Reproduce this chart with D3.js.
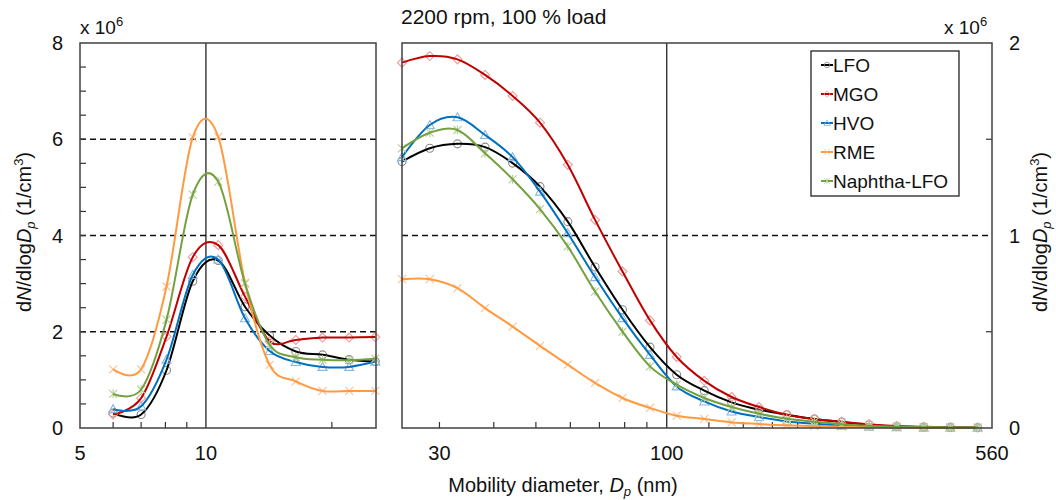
<!DOCTYPE html>
<html lang="en">
<head>
<meta charset="UTF-8">
<title>Particle size distribution</title>
<style>
  body { margin: 0; background: #fff; }
  svg text { font-family: Arial, "Liberation Sans", sans-serif; fill: #111; }
</style>
</head>
<body>
<svg id="chart" width="1056" height="500"></svg>
<script src="https://d3js.org/d3.v7.min.js"></script>
<script>
// mobility diameters (nm) of the points in each panel
const sizesSmall = [6.0, 7.0, 8.05, 9.3, 10.7, 12.4, 14.2, 16.4, 19.0, 22.0, 25.4];
const sizesLarge = [24.6, 28.5, 33.0, 38.2, 44.2, 51.1, 59.2, 68.4, 79.1, 91.5, 105.4,
  122, 141, 163, 188.8, 218.6, 252.7, 292, 338, 390, 449, 519];

// dN/dlogDp, x 10^6 1/cm3
const lfoSmall = [0.31, 0.28, 1.20, 3.05, 3.48, 2.52, 1.92, 1.59, 1.52, 1.42, 1.38];
const mgoSmall = [0.28, 0.62, 1.90, 3.55, 3.80, 2.73, 1.80, 1.83, 1.88, 1.88, 1.89];
const hvoSmall = [0.39, 0.45, 1.42, 3.18, 3.50, 2.28, 1.60, 1.37, 1.27, 1.27, 1.38];
const rmeSmall = [1.22, 1.22, 2.94, 6.04, 6.05, 3.02, 1.31, 0.97, 0.77, 0.77, 0.77];
const napSmall = [0.71, 0.80, 2.25, 4.85, 5.12, 3.00, 1.73, 1.47, 1.42, 1.41, 1.44];

const lfoLarge = [1.384, 1.453, 1.476, 1.459, 1.376, 1.254, 1.072, 0.836, 0.614, 0.420, 0.277,
  0.194, 0.133, 0.095, 0.069, 0.047, 0.031, 0.017, 0.008, 0.005, 0.003, 0.002];
const mgoLarge = [1.898, 1.932, 1.915, 1.834, 1.725, 1.586, 1.367, 1.081, 0.813, 0.559, 0.369,
  0.245, 0.161, 0.109, 0.069, 0.047, 0.033, 0.020, 0.010, 0.006, 0.004, 0.003];
const hvoLarge = [1.407, 1.574, 1.614, 1.522, 1.407, 1.228, 1.012, 0.784, 0.571, 0.380, 0.216,
  0.138, 0.086, 0.057, 0.034, 0.022, 0.012, 0.007, 0.004, 0.002, 0.001, 0.001];
const rmeLarge = [0.773, 0.773, 0.727, 0.623, 0.527, 0.427, 0.329, 0.234, 0.156, 0.104, 0.064,
  0.047, 0.029, 0.021, 0.014, 0.010, 0.007, 0.005, 0.003, 0.002, 0.001, 0.001];
const napLarge = [1.453, 1.534, 1.548, 1.427, 1.292, 1.137, 0.943, 0.709, 0.501, 0.320, 0.225,
  0.156, 0.109, 0.074, 0.048, 0.033, 0.020, 0.012, 0.007, 0.004, 0.003, 0.002];

const seriesNames = ["LFO", "MGO", "HVO", "RME", "Naphtha-LFO"];
const leftTicks = [0, 2, 4, 6, 8];
const rightTicks = [0, 1, 2];
const xLabelsSmall = [5, 10];
const xLabelsLarge = [30, 100, 560];
const minorSmall = [6, 7, 8, 9, 20];
const minorLarge = [30, 40, 50, 60, 70, 80, 90, 125, 150, 175, 200, 225];

const styles = {
  "LFO":         { line: "#000000", mark: "#8a8a8a", shape: "circle" },
  "MGO":         { line: "#c00000", mark: "#ee9a9a", shape: "diamond" },
  "HVO":         { line: "#0070c0", mark: "#86b8e2", shape: "triangle" },
  "RME":         { line: "#ff9a40", mark: "#ffbf90", shape: "cross" },
  "Naphtha-LFO": { line: "#74a040", mark: "#b5cf95", shape: "star" }
};
const smallSets = [lfoSmall, mgoSmall, hvoSmall, rmeSmall, napSmall];
const largeSets = [lfoLarge, mgoLarge, hvoLarge, rmeLarge, napLarge];

const svg = d3.select("#chart");

// panel geometry
const plotTop = 43, plotBottom = 428;
const xs = d3.scaleLog().domain([5, 25.5]).range([80, 376]);
const xl = d3.scaleLog().domain([24.6, 560]).range([402, 992]);
const ys = d3.scaleLinear().domain([0, 8]).range([plotBottom, plotTop]);
const yl = d3.scaleLinear().domain([0, 2]).range([plotBottom, plotTop]);

// reference lines
function hDash(x0, x1, y) {
  svg.append("line").attr("x1", x0).attr("x2", x1).attr("y1", y).attr("y2", y)
    .attr("stroke", "#111").attr("stroke-width", 1.3).attr("stroke-dasharray", "6,4");
}
[2, 4, 6].forEach(v => hDash(xs.range()[0], xs.range()[1], ys(v)));
hDash(xl.range()[0], xl.range()[1], yl(1));
svg.append("line").attr("x1", xs(10)).attr("x2", xs(10)).attr("y1", plotTop).attr("y2", plotBottom)
  .attr("stroke", "#111").attr("stroke-width", 1.2);
svg.append("line").attr("x1", xl(100)).attr("x2", xl(100)).attr("y1", plotTop).attr("y2", plotBottom)
  .attr("stroke", "#111").attr("stroke-width", 1.2);

// minor ticks (drawn inside the frame)
const tickG = svg.append("g").attr("stroke", "#333").attr("stroke-width", 1.2);
d3.range(0.5, 8, 0.5).forEach(v => {
  tickG.append("line").attr("x1", 80).attr("x2", 86).attr("y1", ys(v)).attr("y2", ys(v));
});
[0.5, 1.5].forEach(v => {
  tickG.append("line").attr("x1", 992).attr("x2", 986).attr("y1", yl(v)).attr("y2", yl(v));
});
minorSmall.forEach(v => {
  tickG.append("line").attr("x1", xs(v)).attr("x2", xs(v)).attr("y1", plotBottom).attr("y2", plotBottom - 6);
});
minorLarge.forEach(v => {
  tickG.append("line").attr("x1", xl(v)).attr("x2", xl(v)).attr("y1", plotBottom).attr("y2", plotBottom - 6);
});

// markers
function drawMarker(g, shape, x, y, color) {
  const m = g.append("g").attr("transform", `translate(${x},${y})`)
    .attr("fill", "none").attr("stroke", color).attr("stroke-width", 1.1);
  if (shape === "circle") m.append("circle").attr("r", 4);
  else if (shape === "diamond") m.append("path").attr("d", "M0,-4.5L4.5,0L0,4.5L-4.5,0Z");
  else if (shape === "triangle") m.append("path").attr("d", "M0,-4.5L4.5,3.5L-4.5,3.5Z");
  else if (shape === "cross") m.append("path").attr("d", "M-4,-4L4,4M-4,4L4,-4");
  else m.append("path").attr("d", "M-4,-4L4,4M-4,4L4,-4M0,-4.5L0,4.5");
  return m;
}

function drawPanel(sizes, sets, x, y) {
  seriesNames.forEach((name, i) => {
    const st = styles[name];
    const pts = sizes.map((s, j) => [x(s), y(sets[i][j])]);
    const g = svg.append("g");
    pts.forEach(p => drawMarker(g, st.shape, p[0], p[1], st.mark));
    g.append("path").datum(pts)
      .attr("d", d3.line().curve(d3.curveCardinal.tension(0)))
      .attr("fill", "none").attr("stroke", st.line).attr("stroke-width", 2);
  });
}
drawPanel(sizesSmall, smallSets, xs, ys);
drawPanel(sizesLarge, largeSets, xl, yl);

// frames
svg.append("rect").attr("x", 80).attr("y", plotTop).attr("width", 296).attr("height", plotBottom - plotTop)
  .attr("fill", "none").attr("stroke", "#404040").attr("stroke-width", 1.5);
svg.append("rect").attr("x", 402).attr("y", plotTop).attr("width", 590).attr("height", plotBottom - plotTop)
  .attr("fill", "none").attr("stroke", "#404040").attr("stroke-width", 1.5);

// tick labels
const fs = 20;
leftTicks.forEach(v => {
  svg.append("text").attr("x", 63).attr("y", ys(v) + 7).attr("text-anchor", "end")
    .attr("font-size", fs).text(v);
});
rightTicks.forEach(v => {
  svg.append("text").attr("x", 1009).attr("y", yl(v) + 7).attr("text-anchor", "start")
    .attr("font-size", fs).text(v);
});
xLabelsSmall.forEach(v => {
  svg.append("text").attr("x", xs(v)).attr("y", 460).attr("text-anchor", "middle")
    .attr("font-size", fs).text(v);
});
xLabelsLarge.forEach(v => {
  svg.append("text").attr("x", xl(v)).attr("y", 460).attr("text-anchor", "middle")
    .attr("font-size", fs).text(v);
});

// multipliers
function multiplier(x) {
  const t = svg.append("text").attr("x", x).attr("y", 34).attr("font-size", 19);
  t.append("tspan").text("x 10");
  t.append("tspan").attr("font-size", 13).attr("dy", -8).text("6");
}
multiplier(80);
multiplier(944);

// titles
svg.append("text").attr("x", 401).attr("y", 24).attr("font-size", 21).text("2200 rpm, 100 % load");

const xt = svg.append("text").attr("x", 563).attr("y", 492).attr("text-anchor", "middle").attr("font-size", 20);
xt.append("tspan").text("Mobility diameter, ");
xt.append("tspan").attr("font-style", "italic").text("D");
xt.append("tspan").attr("font-style", "italic").attr("font-size", 13).attr("dy", 4).text("p");
xt.append("tspan").attr("dy", -4).text(" (nm)");

function yTitle(x) {
  const t = svg.append("text").attr("transform", `translate(${x},232) rotate(-90)`)
    .attr("text-anchor", "middle").attr("font-size", 20);
  t.append("tspan").text("d");
  t.append("tspan").attr("font-style", "italic").text("N");
  t.append("tspan").text("/dlog");
  t.append("tspan").attr("font-style", "italic").text("D");
  t.append("tspan").attr("font-style", "italic").attr("font-size", 13).attr("dy", 4).text("p");
  t.append("tspan").attr("dy", -4).text(" (1/cm");
  t.append("tspan").attr("font-size", 13).attr("dy", -8).text("3");
  t.append("tspan").attr("dy", 8).text(")");
}
yTitle(31);
yTitle(1047);

// legend
const lg = svg.append("g").attr("transform", "translate(811,51)");
lg.append("rect").attr("width", 148).attr("height", 145).attr("fill", "#fff")
  .attr("stroke", "#222").attr("stroke-width", 1.3);
seriesNames.forEach((name, i) => {
  const yy = 14 + i * 29;
  const st = styles[name];
  lg.append("line").attr("x1", 10).attr("x2", 22).attr("y1", yy).attr("y2", yy)
    .attr("stroke", st.line).attr("stroke-width", 2);
  drawMarker(lg, st.shape, 16, yy, st.mark)
    .attr("transform", `translate(16,${yy}) scale(0.7)`);
  lg.append("text").attr("x", 22).attr("y", yy + 7).attr("font-size", 19).text(name);
});
</script>
</body>
</html>
